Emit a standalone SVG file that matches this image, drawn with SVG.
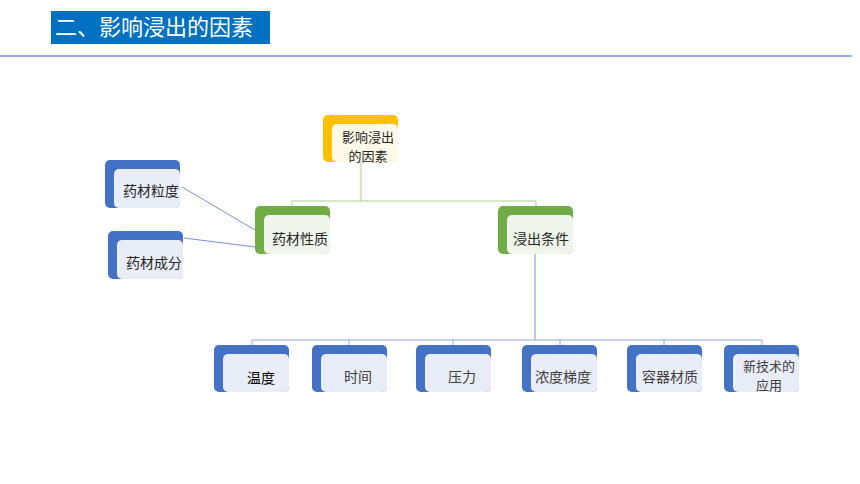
<svg xmlns="http://www.w3.org/2000/svg" width="860" height="484" viewBox="0 0 860 484">
<style>
text{font-family:"Noto Sans CJK SC","Noto Sans",sans-serif;font-size:14px;fill:#262626;text-anchor:middle}
.title{font-size:22px;fill:#fff;text-anchor:start}
.two{font-size:13px}
.ob{fill:#4472C4}.ib{fill:#E9EDF7}
.og{fill:#70AD47}.ig{fill:#EFF5EA}
.oy{fill:#FFC000}.iy{fill:#FFF9E8}
.ln{fill:none;stroke-width:1}
</style>
<rect width="860" height="484" fill="#fff"/>
<rect x="51" y="11" width="219" height="33" fill="#0070C0"/>
<text class="title" x="55" y="35">二、影响浸出的因素</text>
<line x1="0" y1="56" x2="852" y2="56" stroke="#6F94DC" stroke-width="1.5"/>
<g id="connectors">
<polyline class="ln" stroke="#A9D18E" points="361,162 361,201"/>
<polyline class="ln" stroke="#A9D18E" points="292,207 292,201 536,201 536,207"/>
<line class="ln" stroke="#6F94DC" x1="182" y1="187" x2="255" y2="230"/>
<line class="ln" stroke="#6F94DC" x1="184" y1="238" x2="255" y2="247"/>
<polyline class="ln" stroke="#6F94DC" points="535,254 535,340"/>
<polyline class="ln" stroke="#8FAADC" points="252,345 252,340 762,340 762,345"/>
<line class="ln" stroke="#8FAADC" x1="349" y1="340" x2="349" y2="345"/>
<line class="ln" stroke="#8FAADC" x1="453" y1="340" x2="453" y2="345"/>
<line class="ln" stroke="#8FAADC" x1="560" y1="340" x2="560" y2="345"/>
<line class="ln" stroke="#8FAADC" x1="664" y1="340" x2="664" y2="345"/>
</g>
<g id="root">
<rect class="oy" x="323" y="115" width="75" height="47" rx="5"/>
<rect class="iy" x="332" y="124" width="66" height="38" rx="5"/>
<text class="two" x="368" y="142">影响浸出</text>
<text class="two" x="368" y="161">的因素</text>
</g>
<g id="n-xingzhi">
<rect class="og" x="255" y="206" width="75" height="48" rx="5"/>
<rect class="ig" x="264" y="215" width="66" height="39" rx="5"/>
<text x="300" y="244">药材性质</text>
</g>
<g id="n-tiaojian">
<rect class="og" x="498" y="206" width="75" height="48" rx="5"/>
<rect class="ig" x="507" y="215" width="66" height="39" rx="5"/>
<text x="541" y="244">浸出条件</text>
</g>
<g id="n-lidu">
<rect class="ob" x="105" y="160" width="75" height="48" rx="5"/>
<rect class="ib" x="114" y="169" width="66" height="39" rx="5"/>
<text x="151" y="196">药材粒度</text>
</g>
<g id="n-chengfen">
<rect class="ob" x="108" y="231" width="75" height="48" rx="5"/>
<rect class="ib" x="117" y="240" width="66" height="39" rx="5"/>
<text x="154" y="268">药材成分</text>
</g>
<g id="n-wendu">
<rect class="ob" x="214" y="345" width="75" height="47" rx="5"/>
<rect class="ib" x="223" y="354" width="66" height="38" rx="5"/>
<text x="261" y="383" style="fill:#000">温度</text>
</g>
<g id="n-shijian">
<rect class="ob" x="312" y="345" width="75" height="47" rx="5"/>
<rect class="ib" x="321" y="354" width="66" height="38" rx="5"/>
<text x="358" y="382" style="fill:#404040">时间</text>
</g>
<g id="n-yali">
<rect class="ob" x="416" y="345" width="75" height="47" rx="5"/>
<rect class="ib" x="425" y="354" width="66" height="38" rx="5"/>
<text x="462" y="382" style="fill:#404040">压力</text>
</g>
<g id="n-nongdu">
<rect class="ob" x="522" y="345" width="75" height="47" rx="5"/>
<rect class="ib" x="531" y="354" width="66" height="38" rx="5"/>
<text x="563" y="382" style="fill:#404040">浓度梯度</text>
</g>
<g id="n-rongqi">
<rect class="ob" x="627" y="345" width="75" height="47" rx="5"/>
<rect class="ib" x="636" y="354" width="66" height="38" rx="5"/>
<text x="670" y="382" style="fill:#404040">容器材质</text>
</g>
<g id="n-xinjishu">
<rect class="ob" x="724" y="345" width="75" height="47" rx="5"/>
<rect class="ib" x="733" y="354" width="66" height="38" rx="5"/>
<text class="two" x="769" y="371" style="fill:#404040">新技术的</text>
<text class="two" x="769" y="390" style="fill:#404040">应用</text>
</g>
</svg>
